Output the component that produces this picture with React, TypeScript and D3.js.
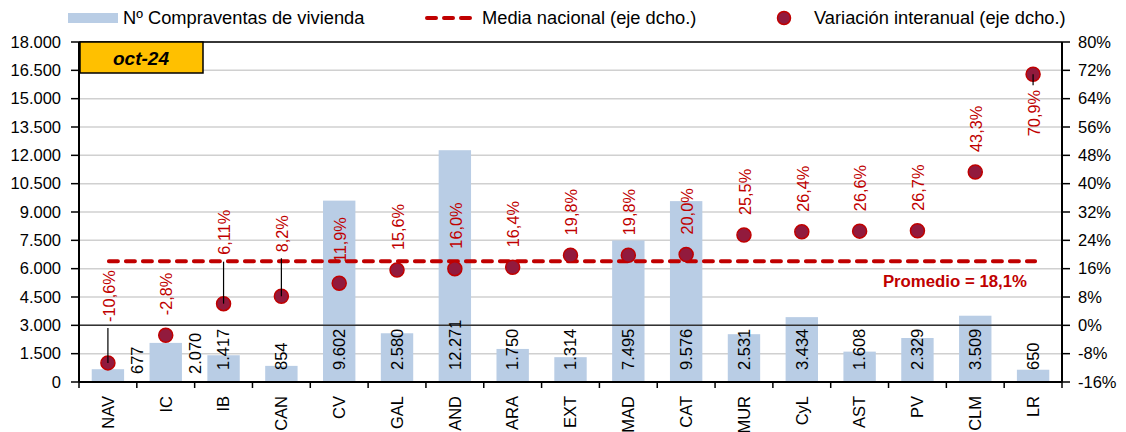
import React from "react"
import * as d3 from "d3"

const categories = ["NAV", "IC", "IB", "CAN", "CV", "GAL", "AND", "ARA", "EXT", "MAD", "CAT", "MUR", "CyL", "AST", "PV", "CLM", "LR"]
const sales = [677, 2070, 1417, 854, 9602, 2580, 12271, 1750, 1314, 7495, 9576, 2531, 3434, 1608, 2329, 3509, 650]
const yoy = [-10.6, -2.8, 6.11, 8.2, 11.9, 15.6, 16.0, 16.4, 19.8, 19.8, 20.0, 25.5, 26.4, 26.6, 26.7, 43.3, 70.9]
const yoyLabels = ["-10,6%", "-2,8%", "6,11%", "8,2%", "11,9%", "15,6%", "16,0%", "16,4%", "19,8%", "19,8%", "20,0%", "25,5%", "26,4%", "26,6%", "26,7%", "43,3%", "70,9%"]
const nationalAvg = 18.1
const leftTicks = d3.range(0, 18001, 1500)
const rightTicks = d3.range(-16, 81, 8)

// hand placed label tweaks (px), like the excel original
const pctLift = [41, 20, 49, 44, 21, 20, 20, 20, 20, 20, 20, 20, 20, 20, 20, 20, -62]
const leader = [35, 0, 42, 38, 0, 0, 0, 0, 0, 0, 0, 0, 0, 0, 0, 0, -11]
const barLabelDx = [29, 29, 0, 0, 0, 0, 0, 0, 0, 0, 0, 0, 0, 0, 0, 0, 0]

const W = 1126
const H = 432
const left = 79
const right = 1062
const top = 42
const bottom = 382
const RED = "#c00000"
const FONT = "'Liberation Sans', Arial, sans-serif"

const es = d3.formatLocale({ decimal: ",", thousands: ".", grouping: [3], currency: ["", "€"] })
const fmtK = es.format(",d")

export default function App() {
  const x = d3.scaleBand<string>().domain(categories).range([left, right])
  const yL = d3.scaleLinear().domain([0, 18000]).range([bottom, top])
  const yR = d3.scaleLinear().domain([-16, 80]).range([bottom, top])
  const bw = x.bandwidth()
  const barW = bw * 0.56
  const cx = (c: string) => (x(c) as number) + bw / 2

  return (
    <svg width={W} height={H} style={{ position: "absolute", left: 0, top: 0, fontFamily: FONT }}>
      <rect width={W} height={H} fill="#fff" />

      {/* legend */}
      <g fontSize={18.3} fill="#000">
        <rect x={68} y={13} width={50} height={10} fill="#b9cde5" />
        <text x={123} y={18} dy="0.35em">Nº Compraventas de vivienda</text>
        <line x1={427} x2={471} y1={18} y2={18} stroke={RED} strokeWidth={4} strokeDasharray="9,8" strokeLinecap="round" />
        <text x={482} y={18} dy="0.35em">Media nacional (eje dcho.)</text>
        <circle cx={784} cy={18} r={6.5} fill="#921a3d" stroke={RED} strokeWidth={1.5} />
        <text x={814} y={18} dy="0.35em">Variación interanual (eje dcho.)</text>
      </g>

      {/* grid */}
      {leftTicks.map((t) => (
        <line key={t} x1={left} x2={right} y1={yL(t)} y2={yL(t)} stroke="#d0d0d0" strokeWidth={1.5} />
      ))}

      {/* bars */}
      {categories.map((c, i) => (
        <rect key={c} x={cx(c) - barW / 2} y={yL(sales[i])} width={barW} height={bottom - yL(sales[i])} fill="#b9cde5" />
      ))}

      {/* zero line of the right axis */}
      <line x1={left} x2={right} y1={yR(0)} y2={yR(0)} stroke="#333" strokeWidth={1.5} />

      {/* frame + axes */}
      <line x1={left} x2={right} y1={top} y2={top} stroke="#000" strokeWidth={1.5} />
      <line x1={left} x2={left} y1={top} y2={bottom} stroke="#000" strokeWidth={2} />
      <line x1={right} x2={right} y1={top} y2={bottom} stroke="#000" strokeWidth={2} />
      <line x1={left} x2={right} y1={bottom} y2={bottom} stroke="#000" strokeWidth={2} />

      <g fontSize={16.5} fill="#000">
        {leftTicks.map((t) => (
          <g key={t}>
            <line x1={left - 8} x2={left} y1={yL(t)} y2={yL(t)} stroke="#000" strokeWidth={1.5} />
            <text x={61} y={yL(t)} dy="0.35em" textAnchor="end">{fmtK(t)}</text>
          </g>
        ))}
        {rightTicks.map((t) => (
          <g key={t}>
            <line x1={right} x2={right + 8} y1={yR(t)} y2={yR(t)} stroke="#000" strokeWidth={1.5} />
            <text x={1078} y={yR(t)} dy="0.35em">{t}%</text>
          </g>
        ))}
        {d3.range(categories.length + 1).map((i) => (
          <line key={i} x1={left + i * bw} x2={left + i * bw} y1={bottom} y2={bottom + 6} stroke="#000" strokeWidth={1.5} />
        ))}
        {categories.map((c) => (
          <text key={c} transform={`translate(${cx(c)},${bottom + 14}) rotate(-90)`} dy="0.35em" textAnchor="end">{c}</text>
        ))}
        {categories.map((c, i) => (
          <text key={c} transform={`translate(${cx(c) + barLabelDx[i]},${barLabelDx[i] ? 374 : 370}) rotate(-90)`} dy="0.35em">
            {fmtK(sales[i])}
          </text>
        ))}
      </g>

      {/* national average */}
      <line x1={cx(categories[0]) + 1} x2={cx(categories[categories.length - 1]) + 2} y1={yR(nationalAvg)} y2={yR(nationalAvg)}
        stroke={RED} strokeWidth={4} strokeDasharray="9,8" strokeLinecap="round" />
      <text x={1027} y={yR(nationalAvg) + 20} dy="0.35em" textAnchor="end" fill={RED} fontWeight="bold" fontSize={16.8}>
        Promedio = 18,1%
      </text>

      {/* yoy points */}
      {categories.map((c, i) => (
        <circle key={c} cx={cx(c)} cy={yR(yoy[i])} r={7} fill="#921a3d" stroke={RED} strokeWidth={1.5} />
      ))}
      {categories.map((c, i) =>
        leader[i] ? (
          <line key={c} x1={cx(c)} x2={cx(c)} y1={yR(yoy[i])} y2={yR(yoy[i]) - leader[i]} stroke="#000" strokeWidth={1.2} />
        ) : null,
      )}
      {categories.map((c, i) => (
        <text key={c} transform={`translate(${cx(c) + 1},${yR(yoy[i]) - pctLift[i]}) rotate(-90)`} dy="0.35em"
          fill={RED} fontSize={16.3}>
          {yoyLabels[i]}
        </text>
      ))}

      {/* date badge */}
      <rect x={80} y={42} width={123} height={31} fill="#ffc000" stroke="#000" strokeWidth={1.5} />
      <text x={141} y={58} dy="0.35em" textAnchor="middle" fontWeight="bold" fontStyle="italic" fontSize={19}>oct-24</text>
    </svg>
  )
}
